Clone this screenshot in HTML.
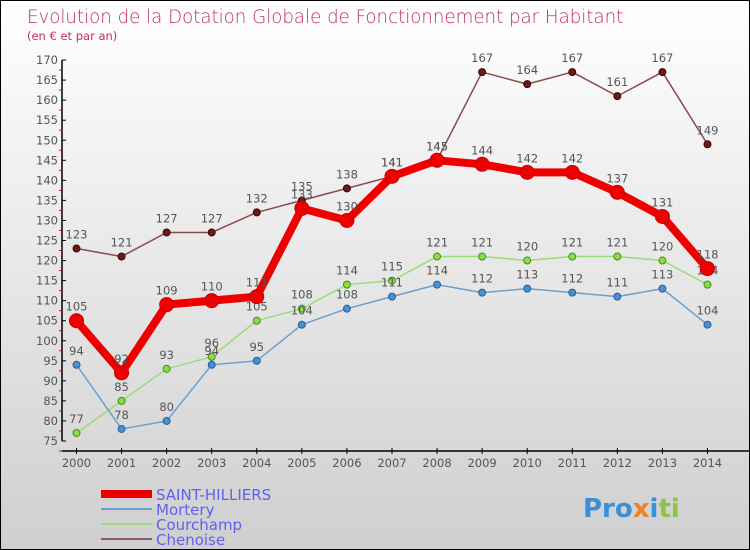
<!DOCTYPE html>
<html><head><meta charset="utf-8"><style>
body{margin:0}
#c{width:748px;height:548px;border:1px solid #000;background:linear-gradient(#fff,#cfcfcf);position:relative;font-family:"DejaVu Sans","Liberation Sans",sans-serif;overflow:hidden}
</style></head><body>
<div id="c">
<svg id="s" width="748" height="548" xmlns="http://www.w3.org/2000/svg" style="position:absolute;left:0;top:0">
<text x="26" y="22" font-size="18.2" fill="#c0305f" font-weight="200">Evolution de la Dotation Globale de Fonctionnement par Habitant</text>
<text x="26" y="39" font-size="11.5" fill="#c0305f">(en € et par an)</text>
<g id="axes"></g><g id="series"></g>
<g>
<line x1="100" y1="493" x2="151" y2="493" stroke="#e00" stroke-width="8"/>
<text x="155" y="499" font-size="15" fill="#6060f0">SAINT-HILLIERS</text>
<line x1="100" y1="508" x2="151" y2="508" stroke="#6a9fd0" stroke-width="2"/>
<text x="155" y="514" font-size="15" fill="#6060f0">Mortery</text>
<line x1="100" y1="523" x2="151" y2="523" stroke="#99dd77" stroke-width="2"/>
<text x="155" y="529" font-size="15" fill="#6060f0">Courchamp</text>
<line x1="100" y1="538" x2="151" y2="538" stroke="#8b5a5a" stroke-width="2"/>
<text x="155" y="544" font-size="15" fill="#6060f0">Chenoise</text>
</g>
<g><text x="582" y="516" font-size="26" font-weight="bold" fill="#3a8fd8">Pro<tspan fill="#f08020">x</tspan>i<tspan fill="#8cc63f">ti</tspan></text></g>
</svg>
</div>
<script>
const years=[2000,2001,2002,2003,2004,2005,2006,2007,2008,2009,2010,2011,2012,2013,2014];
const saintHilliers=[105,92,109,110,111,133,130,141,145,144,142,142,137,131,118];
const mortery=[94,78,80,94,95,104,108,111,114,112,113,112,111,113,104];
const courchamp=[77,85,93,96,105,108,114,115,121,121,120,121,121,120,114];
const chenoise=[123,121,127,127,132,135,138,141,145,167,164,167,161,167,149];
const yTicks=[75,80,85,90,95,100,105,110,115,120,125,130,135,140,145,150,155,160,165,170];
const NS="http://www.w3.org/2000/svg";
const X=i=>75.5+i*45.07, Y=v=>440-(v-75)*4.01;
function mk(t,a,p){const e=document.createElementNS(NS,t);for(const k in a)e.setAttribute(k,a[k]);p.appendChild(e);return e;}
const ax=document.getElementById('axes');
let yl=mk('line',{x1:61,y1:Y(170),x2:61,y2:Y(75),stroke:'#000','stroke-width':1.5},ax);


let xl=mk('line',{x1:61,y1:450,x2:748,y2:450,stroke:'#000','stroke-width':1.5},ax);


yTicks.forEach(v=>{const y=Y(v);
mk('line',{x1:61,y1:y,x2:65,y2:y,stroke:'#000'},ax);
mk('line',{x1:58,y1:y+10,x2:61,y2:y+10,stroke:'#e00'},ax);
const t=mk('text',{x:57,y:y+4,'text-anchor':'end','font-size':11.5,fill:'#555'},ax);t.textContent=v;

});
years.forEach((yr,i)=>{const x=X(i);
mk('line',{x1:x,y1:447,x2:x,y2:453,stroke:'#000'},ax);
const t=mk('text',{x:x,y:466,'text-anchor':'middle','font-size':11.5,fill:'#555'},ax);t.textContent=yr;

});
const sg=document.getElementById('series');
function draw(name,data,color,w,r,fill,stroke){
const g=mk('g',{},sg);


const p=mk('polyline',{points:data.map((v,i)=>X(i)+','+Y(v)).join(' '),fill:'none',stroke:color,'stroke-width':w,'stroke-linejoin':'round'},g);


data.forEach((v,i)=>{const c=mk('circle',{cx:X(i),cy:Y(v),r:r,fill:fill,stroke:stroke,'stroke-width':1},g);


const t=mk('text',{x:X(i),y:Y(v)-10,'text-anchor':'middle','font-size':11.5,fill:'#555'},g);t.textContent=v;

});}
draw('chenoise',chenoise,'#8b4a4a',1.5,3.5,'#6a1a1a','#400');
draw('courchamp',courchamp,'#99dd77',1.5,3.5,'#88dd44','#4a8a20');
draw('mortery',mortery,'#6a9fd0',1.5,3.5,'#4a90d0','#25609a');
draw('saint-hilliers',saintHilliers,'#ee0000',8,7,'#ee0000','#cc0000');
</script>
</body></html>
